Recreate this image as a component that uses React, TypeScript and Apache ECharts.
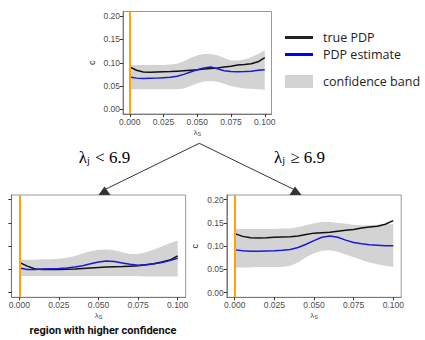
import React, { useEffect, useRef } from "react";
import * as echarts from "echarts";

// shared x grid of lambda_S values
const xs = [0, 0.005, 0.01, 0.015, 0.02, 0.025, 0.03, 0.035, 0.04, 0.045, 0.05, 0.055, 0.06, 0.065, 0.07, 0.075, 0.08, 0.085, 0.09, 0.095, 0.1];

// top panel (root node)
const topTrue = [0.091, 0.084, 0.080, 0.0795, 0.080, 0.0805, 0.081, 0.082, 0.083, 0.084, 0.085, 0.0865, 0.0875, 0.089, 0.091, 0.0925, 0.095, 0.096, 0.098, 0.102, 0.111];
const topEst = [0.0695, 0.067, 0.066, 0.0665, 0.067, 0.068, 0.069, 0.071, 0.075, 0.080, 0.085, 0.089, 0.091, 0.087, 0.083, 0.081, 0.0805, 0.081, 0.082, 0.084, 0.085];
const topUpper = [0.095, 0.095, 0.095, 0.095, 0.095, 0.095, 0.096, 0.098, 0.103, 0.110, 0.116, 0.119, 0.119, 0.116, 0.110, 0.105, 0.105, 0.107, 0.112, 0.119, 0.127];
const topLower = [0.043, 0.043, 0.043, 0.043, 0.043, 0.043, 0.043, 0.043, 0.045, 0.050, 0.056, 0.060, 0.061, 0.059, 0.055, 0.050, 0.047, 0.045, 0.044, 0.043, 0.042];

// bottom-left panel (lambda_j < 6.9)
const leftTrue = [0.065, 0.057, 0.051, 0.050, 0.050, 0.050, 0.0505, 0.051, 0.052, 0.053, 0.054, 0.055, 0.0555, 0.056, 0.057, 0.058, 0.060, 0.062, 0.066, 0.070, 0.079];
const leftEst = [0.053, 0.050, 0.050, 0.051, 0.0515, 0.052, 0.053, 0.055, 0.058, 0.062, 0.066, 0.068, 0.067, 0.064, 0.061, 0.059, 0.060, 0.062, 0.065, 0.069, 0.074];
const leftUpper = [0.071, 0.071, 0.071, 0.072, 0.072, 0.073, 0.075, 0.079, 0.084, 0.089, 0.092, 0.093, 0.091, 0.087, 0.083, 0.083, 0.087, 0.093, 0.099, 0.106, 0.112];
const leftLower = [0.036, 0.036, 0.036, 0.036, 0.036, 0.036, 0.036, 0.036, 0.036, 0.036, 0.036, 0.036, 0.036, 0.036, 0.036, 0.036, 0.035, 0.035, 0.035, 0.035, 0.035];

// bottom-right panel (lambda_j >= 6.9)
const rightTrue = [0.127, 0.121, 0.118, 0.1175, 0.118, 0.119, 0.1195, 0.120, 0.122, 0.125, 0.128, 0.129, 0.130, 0.132, 0.134, 0.136, 0.139, 0.141, 0.143, 0.147, 0.155];
const rightEst = [0.092, 0.090, 0.089, 0.089, 0.0895, 0.090, 0.091, 0.093, 0.097, 0.104, 0.112, 0.119, 0.122, 0.119, 0.113, 0.108, 0.105, 0.103, 0.102, 0.101, 0.101];
const rightUpper = [0.137, 0.137, 0.137, 0.137, 0.137, 0.137, 0.138, 0.138, 0.141, 0.145, 0.149, 0.152, 0.152, 0.150, 0.148, 0.146, 0.145, 0.145, 0.146, 0.147, 0.147];
const rightLower = [0.054, 0.054, 0.054, 0.055, 0.055, 0.055, 0.055, 0.058, 0.065, 0.076, 0.085, 0.090, 0.091, 0.088, 0.082, 0.076, 0.070, 0.065, 0.061, 0.058, 0.055];

const xTicks = [0, 0.025, 0.05, 0.075, 0.1];
const yTicks = [0, 0.05, 0.1, 0.15, 0.2];

const legendItems = ["true PDP", "PDP estimate", "confidence band"];
const splitLabels = ["< 6.9", "≥ 6.9"];
const footerText = "region with higher confidence";

const panels = [
  { truth: topTrue, est: topEst, upper: topUpper, lower: topLower, showYLabels: true, yName: "c" },
  { truth: leftTrue, est: leftEst, upper: leftUpper, lower: leftLower, showYLabels: false, yName: "" },
  { truth: rightTrue, est: rightEst, upper: rightUpper, lower: rightLower, showYLabels: true, yName: "c" },
];

const grids = [
  { left: 123, top: 11.5, width: 148.5, height: 102.5 },
  { left: 11.4, top: 195, width: 174.2, height: 102.3 },
  { left: 226.8, top: 195, width: 174.4, height: 102.3 },
];

const SANS = "'Liberation Sans', Arial, sans-serif";
const TICK_COLOR = "#4d4d4d";
const BLUE = "#1a1ad6";
const BAND = "#d3d3d3";

export default function App() {
  const ref = useRef<HTMLDivElement>(null);

  useEffect(() => {
    if (!ref.current) return;
    const chart = echarts.init(ref.current, undefined, { renderer: "svg" });

    const xAxis = grids.map((_, i) => ({
      gridIndex: i,
      type: "value",
      min: -0.005,
      max: 0.105,
      splitLine: { show: false },
      axisLine: { show: true, onZero: false, lineStyle: { color: "#777", width: 1 } },
      axisTick: { show: true, length: 3, customValues: xTicks, lineStyle: { color: "#333" } },
      axisLabel: {
        customValues: xTicks,
        formatter: (v: number) => v.toFixed(3),
        fontSize: 8.5,
        fontFamily: SANS,
        color: TICK_COLOR,
        margin: 3,
      },
      name: "{l|λ}{s|S}",
      nameLocation: "middle",
      nameGap: 14,
      nameTextStyle: {
        rich: {
          l: { fontSize: 8, fontFamily: SANS, color: TICK_COLOR },
          s: { fontSize: 5.5, fontFamily: SANS, color: TICK_COLOR, verticalAlign: "bottom", padding: [3, 0, 0, 0] },
        },
      },
    }));

    const yAxis = grids.map((_, i) => ({
      gridIndex: i,
      type: "value",
      min: -0.01,
      max: 0.21,
      splitLine: { show: false },
      axisLine: { show: true, onZero: false, lineStyle: { color: "#777", width: 1 } },
      axisTick: { show: true, length: 3, customValues: yTicks, lineStyle: { color: "#333" } },
      axisLabel: {
        show: panels[i].showYLabels,
        customValues: yTicks,
        formatter: (v: number) => v.toFixed(2),
        fontSize: 8.5,
        fontFamily: SANS,
        color: TICK_COLOR,
        margin: 3,
      },
      name: panels[i].yName,
      nameLocation: "middle",
      nameGap: 27,
      nameTextStyle: { fontSize: 9, fontFamily: SANS, color: "#222" },
    }));

    const series: any[] = [];
    panels.forEach((p, i) => {
      series.push({
        type: "custom",
        name: legendItems[2],
        xAxisIndex: i,
        yAxisIndex: i,
        silent: true,
        z: 1,
        data: [[0, 0]],
        renderItem: (_params: any, api: any) => {
          const pts: number[][] = [];
          for (let k = 0; k < xs.length; k++) pts.push(api.coord([xs[k], p.upper[k]]));
          for (let k = xs.length - 1; k >= 0; k--) pts.push(api.coord([xs[k], p.lower[k]]));
          return { type: "polygon", shape: { points: pts }, style: { fill: BAND } };
        },
      });
      series.push({
        type: "line",
        name: "orange",
        xAxisIndex: i,
        yAxisIndex: i,
        data: [],
        z: 2,
        markLine: {
          silent: true,
          symbol: ["none", "none"],
          label: { show: false },
          lineStyle: { color: "#FFA500", width: 2, type: "solid" },
          data: [{ xAxis: 0 }],
        },
      });
      series.push({
        type: "line",
        name: legendItems[0],
        xAxisIndex: i,
        yAxisIndex: i,
        showSymbol: false,
        symbol: "none",
        z: 3,
        lineStyle: { color: "#111", width: 1.5 },
        data: xs.map((x, k) => [x, p.truth[k]]),
      });
      series.push({
        type: "line",
        name: legendItems[1],
        xAxisIndex: i,
        yAxisIndex: i,
        showSymbol: false,
        symbol: "none",
        z: 3,
        lineStyle: { color: BLUE, width: 1.5 },
        data: xs.map((x, k) => [x, p.est[k]]),
      });
    });

    const serif = "'Liberation Serif', 'DejaVu Serif', serif";
    const splitRich = {
      a: { fontFamily: serif, fontSize: 17, color: "#111" },
      s: { fontFamily: serif, fontSize: 10, color: "#111", verticalAlign: "bottom", padding: [7, 1, 0, 0] },
    };

    const graphic: any[] = [
      // arrows
      { type: "line", shape: { x1: 199.3, y1: 143.3, x2: 104, y2: 190 }, style: { stroke: "#333", lineWidth: 1 } },
      { type: "polygon", shape: { points: [[104.5, 186.5], [98.5, 195], [110.5, 195]] }, style: { fill: "#333" } },
      { type: "line", shape: { x1: 199.3, y1: 143.3, x2: 295, y2: 190 }, style: { stroke: "#333", lineWidth: 1 } },
      { type: "polygon", shape: { points: [[295, 186.5], [289.5, 195], [301.5, 195]] }, style: { fill: "#333" } },
      // split labels
      {
        type: "text",
        x: 104.5,
        y: 157,
        style: { text: "{a|λ}{s|j}{a| " + splitLabels[0] + "}", rich: splitRich, align: "center", verticalAlign: "middle" },
      },
      {
        type: "text",
        x: 299.5,
        y: 157,
        style: { text: "{a|λ}{s|j}{a| " + splitLabels[1] + "}", rich: splitRich, align: "center", verticalAlign: "middle" },
      },
      // legend
      { type: "line", shape: { x1: 285, y1: 37.5, x2: 313, y2: 37.5 }, style: { stroke: "#222", lineWidth: 3 } },
      { type: "text", x: 323, y: 37.5, style: { text: legendItems[0], fontFamily: "'Open Sans', sans-serif", fontSize: 12.5, fill: "#222", verticalAlign: "middle" } },
      { type: "line", shape: { x1: 285, y1: 54.5, x2: 313, y2: 54.5 }, style: { stroke: "#0000ff", lineWidth: 3 } },
      { type: "text", x: 323, y: 54.5, style: { text: legendItems[1], fontFamily: "'Open Sans', sans-serif", fontSize: 12.5, fill: "#222", verticalAlign: "middle" } },
      { type: "rect", shape: { x: 285, y: 75, width: 28, height: 13 }, style: { fill: BAND } },
      { type: "text", x: 323, y: 81.5, style: { text: legendItems[2], fontFamily: "'Open Sans', sans-serif", fontSize: 12.5, fill: "#222", verticalAlign: "middle" } },
      // footer
      { type: "text", x: 103, y: 330, style: { text: footerText, fontFamily: "Roboto, 'Liberation Sans', sans-serif", fontWeight: "bold", fontSize: 11, fill: "#111", align: "center", verticalAlign: "middle" } },
    ];

    chart.setOption({
      animation: false,
      backgroundColor: "#ffffff",
      grid: grids.map((g) => ({ ...g, show: true, borderColor: "#999", borderWidth: 1, backgroundColor: "#ffffff" })),
      xAxis,
      yAxis,
      series,
      graphic,
    });

    return () => chart.dispose();
  }, []);

  return <div ref={ref} style={{ position: "absolute", left: 0, top: 0, width: 425, height: 340 }} />;
}
